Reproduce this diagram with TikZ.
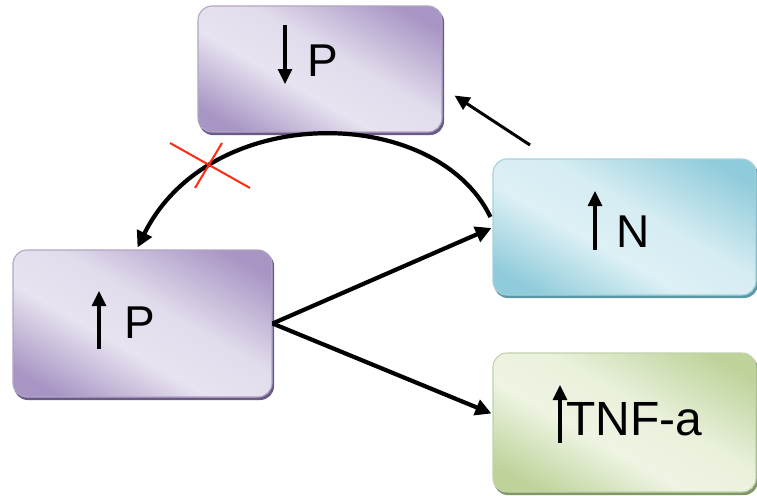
\documentclass[tikz,border=0pt]{standalone}
\usepackage{fontspec}
\setmainfont{Liberation Sans}
\usetikzlibrary{arrows.meta,calc,backgrounds}
\definecolor{purpdark}{HTML}{A795C4}
\definecolor{purplight}{HTML}{E8E3F0}
\definecolor{purpline}{HTML}{7D6A9C}
\definecolor{cyandark}{HTML}{8FCBDA}
\definecolor{cyanlight}{HTML}{DDF0F5}
\definecolor{cyanline}{HTML}{6AB2C4}
\definecolor{greendark}{HTML}{BDD39A}
\definecolor{greenlight}{HTML}{EEF4E3}
\definecolor{greenline}{HTML}{98B377}
\definecolor{crossred}{HTML}{FF2A12}
% diagonal glossy fills: dark corners, light band through the middle
\pgfdeclarehorizontalshading{purpshade}{100bp}{color(0bp)=(purpdark); color(22bp)=(purpdark);
  color(42bp)=(purplight); color(56bp)=(purplight!90!purpdark); color(78bp)=(purpdark); color(100bp)=(purpdark)}
\pgfdeclarehorizontalshading{cyanshade}{100bp}{color(0bp)=(cyandark); color(22bp)=(cyandark);
  color(42bp)=(cyanlight); color(56bp)=(cyanlight!90!cyandark); color(78bp)=(cyandark); color(100bp)=(cyandark)}
\pgfdeclarehorizontalshading{greenshade}{100bp}{color(0bp)=(greendark); color(22bp)=(greendark);
  color(42bp)=(greenlight); color(56bp)=(greenlight!90!greendark); color(78bp)=(greendark); color(100bp)=(greendark)}
\begin{document}
\begin{tikzpicture}[x=1pt,y=-1pt,
  boxbase/.style={rounded corners=14pt, line width=1.1pt, inner sep=0pt, shade},
  purpbox/.style={boxbase, draw=purpline!60, shading=purpshade, shading angle=60},
  cyanbox/.style={boxbase, draw=cyanline!60, shading=cyanshade, shading angle=60},
  greenbox/.style={boxbase, draw=greenline!60, shading=greenshade, shading angle=60},
  boxshadow/.style={fill=#1, rounded corners=14pt},
  lbl/.style={inner sep=0pt, anchor=base west, font=\fontsize{46}{50}\selectfont},
  trend/.style={line width=3.1pt, -{Triangle[length=15pt,width=14pt]}},
  conn/.style={line width=4.2pt, -{Triangle[length=16pt,width=16pt]}},
  thinconn/.style={line width=3pt, -{Triangle[length=15pt,width=14pt]}},
  cross/.style={crossred, line width=2pt}]
\useasboundingbox (0,0) rectangle (757,495);

% boxes
\node[purpbox, minimum width=244pt, minimum height=126pt] (down) at (320,69) {};
\node[purpbox, minimum width=259pt, minimum height=147pt] (lp) at (142.5,323.5) {};
\node[cyanbox, minimum width=263pt, minimum height=136pt] (N) at (624.5,227) {};
\node[greenbox, minimum width=263pt, minimum height=139pt] (tnf) at (624.5,422.5) {};

% soft dark rims below the boxes
\begin{pgfonlayer}{background}
  \fill[boxshadow=purpline!85!black] ($(down.north west)+(1.5,2.5)$) rectangle ($(down.south east)+(1.5,2.5)$);
  \fill[boxshadow=purpline!85!black] ($(lp.north west)+(1.5,2.5)$) rectangle ($(lp.south east)+(1.5,2.5)$);
  \fill[boxshadow=cyanline!85!black] ($(N.north west)+(1.5,2.5)$) rectangle ($(N.south east)+(1.5,2.5)$);
  \fill[boxshadow=greenline!85!black] ($(tnf.north west)+(1.5,2.5)$) rectangle ($(tnf.south east)+(1.5,2.5)$);
\end{pgfonlayer}

% labels with trend arrows
\draw[trend] (285,25) -- (285,84);
\node[lbl] (downtxt) at (307,77) {P};
\draw[trend] (99,349) -- (99,291);
\node[lbl] (lptxt) at (124,338) {P};
\draw[trend] (595,250) -- (595,191);
\node[lbl] (Ntxt) at (616,247) {N};
\draw[trend] (560,443) -- (560,385);
\node[lbl, font=\fontsize{48}{52}\selectfont] (tnftxt) at (566,435) {TNF-a};

% connectors
\coordinate (src) at (530,145);
\draw[thinconn] (src) -- ($(down.south east)+(12,-37)$);
\draw[conn] ($(N.west)+(-2,-10)$) .. controls (436,104) and (210,101) .. ($(lp.north)+(-5,-2)$);
\draw[conn] (lp.east) -- ($(N.west)+(-1,1)$);
\draw[conn] (lp.east) -- ($(tnf.west)+(-1,-9)$);

% blocked step
\draw[cross] (170,143) -- (250,188);
\draw[cross] (222,143) -- (195,188);
\end{tikzpicture}
\end{document}
